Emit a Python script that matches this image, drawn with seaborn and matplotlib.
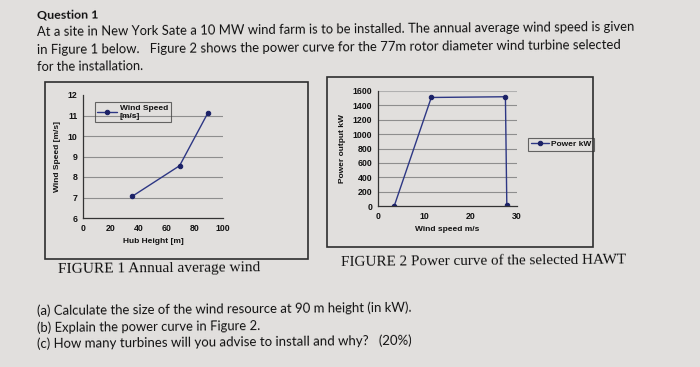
import matplotlib
matplotlib.use("Agg")
import matplotlib.pyplot as plt
import seaborn as sns
import pandas as pd
from matplotlib.patches import Rectangle

# ---------------- data ----------------
hub_height = [35, 69, 89]
wind_speed = [7.05, 8.55, 11.1]
fig1_xticks = [0, 20, 40, 60, 80, 100]
fig1_yticks = [6, 7, 8, 9, 10, 11, 12]
fig1_grid = [7, 8, 9, 10, 11]

power_ws = [3.5, 11.5, 27.5, 27.8]
power_kw = [0, 1510, 1520, 20]
fig2_xticks = [0, 10, 20, 30]
fig2_yticks = [0, 200, 400, 600, 800, 1000, 1200, 1400, 1600]
fig2_grid = [200, 400, 600, 800, 1000, 1200, 1400, 1600]

question_title = "Question 1"
question_lines = [
    "At a site in New York Sate a 10 MW wind farm is to be installed. The annual average wind speed is given",
    "in Figure 1 below.   Figure 2 shows the power curve for the 77m rotor diameter wind turbine selected",
    "for the installation.",
]
caption1 = "FIGURE 1 Annual average wind"
caption2 = "FIGURE 2 Power curve of the selected HAWT"
parts = [
    "(a) Calculate the size of the wind resource at 90 m height (in kW).",
    "(b) Explain the power curve in Figure 2.",
    "(c) How many turbines will you advise to install and why?   (20%)",
]

# ---------------- style ----------------
sns.set_theme(style="white")
plt.rcParams["font.family"] = ["Liberation Sans", "DejaVu Sans"]

W, H = 700, 367
PAGE = "#e1dfdd"
INK = "#121212"
LINE = "#2d3784"
MARK = "#1b2166"
GRID = "#8e8e8e"

fig = plt.figure(figsize=(7, 3.67), dpi=100, facecolor=PAGE)


def fx(x):
    return x / W


def fy(y):
    return 1 - y / H


renderer = fig.canvas.get_renderer()


def fit_text(x, y, s, target_w, family, weight="normal", rot=0.5):
    t = fig.text(fx(x), fy(y), s, family=family, weight=weight, fontsize=10,
                 color=INK, ha="left", va="center", rotation=rot,
                 rotation_mode="anchor")
    w = t.get_window_extent(renderer).width
    t.set_fontsize(10 * target_w / w)
    return t


body_font = ["Lato", "DejaVu Sans"]
fit_text(37, 15, question_title, 61, body_font, weight="bold")
fit_text(37, 32, question_lines[0], 597, body_font)
fit_text(37, 50, question_lines[1], 583, body_font)
fit_text(37, 67, question_lines[2], 107, body_font)
fit_text(58, 270, caption1, 202, ["Liberation Serif"])
fit_text(341, 263, caption2, 285, ["Liberation Serif"])
fit_text(37, 311, parts[0], 375, body_font)
fit_text(37, 328, parts[1], 223, body_font)
fit_text(37, 344, parts[2], 376, body_font)

# boxes around the figures
for (x0, y0, x1, y1) in [(45, 82, 308, 259), (327, 77, 593, 247)]:
    fig.add_artist(Rectangle((fx(x0), fy(y1)), fx(x1 - x0), (y1 - y0) / H,
                             transform=fig.transFigure, fill=False,
                             edgecolor="#2e2e2e", lw=1.2))

tick_kw = dict(labelsize=6.3, colors=INK, direction="inout", length=3, width=0.8,
               pad=2.5)
lab_kw = dict(fontsize=6.0, weight="bold", color=INK)


def style_axes(ax):
    ax.set_facecolor("none")
    for s in ["top", "right"]:
        ax.spines[s].set_visible(False)
    for s in ["left", "bottom"]:
        ax.spines[s].set_color("#333333")
        ax.spines[s].set_linewidth(0.9)
    ax.tick_params(axis="both", **tick_kw)
    for lab in ax.get_xticklabels() + ax.get_yticklabels():
        lab.set_fontweight("bold")


def style_legend(leg):
    leg.get_frame().set_linewidth(0.8)
    for t in leg.get_texts():
        t.set_fontweight("bold")
        t.set_color(INK)


# ---------------- Figure 1 ----------------
ax1 = fig.add_axes([fx(83), fy(218), (223 - 83) / W, (218 - 95) / H])
df1 = pd.DataFrame({"Hub Height [m]": hub_height, "Wind Speed [m/s]": wind_speed})
for g in fig1_grid:
    ax1.axhline(g, color=GRID, lw=0.8, zorder=0)
sns.lineplot(data=df1, x="Hub Height [m]", y="Wind Speed [m/s]", ax=ax1,
             color=LINE, lw=1.0, marker="o", markersize=3.2,
             markerfacecolor=MARK, markeredgecolor=MARK,
             label="Wind Speed\n[m/s]", sort=False)
ax1.set_xlim(0, 100)
ax1.set_ylim(6, 12)
ax1.set_xticks(fig1_xticks)
ax1.set_yticks(fig1_yticks)
style_axes(ax1)
ax1.set_xlabel("Hub Height [m]", labelpad=4, **lab_kw)
ax1.set_ylabel("Wind Speed [m/s]", labelpad=5, **lab_kw)
leg1 = ax1.legend(loc="upper left", bbox_to_anchor=(fx(95), fy(102)),
                  bbox_transform=fig.transFigure, frameon=True, fancybox=False,
                  edgecolor="#444444", facecolor="none", fontsize=6.0,
                  handlelength=2.4, borderpad=0.3, handletextpad=0.3,
                  borderaxespad=0)
style_legend(leg1)

# ---------------- Figure 2 ----------------
ax2 = fig.add_axes([fx(378), fy(206), (517 - 378) / W, (206 - 91) / H])
df2 = pd.DataFrame({"Wind speed m/s": power_ws, "Power output kW": power_kw})
for g in fig2_grid:
    ax2.axhline(g, color=GRID if g < 1600 else "#b0b0b0", lw=0.8, zorder=0)
sns.lineplot(data=df2, x="Wind speed m/s", y="Power output kW", ax=ax2,
             color=LINE, lw=1.0, marker="o", markersize=3.2,
             markerfacecolor=MARK, markeredgecolor=MARK,
             label="Power kW", sort=False)
ax2.set_xlim(0, 30)
ax2.set_ylim(0, 1600)
ax2.set_xticks(fig2_xticks)
ax2.set_yticks(fig2_yticks)
style_axes(ax2)
ax2.set_xlabel("Wind speed m/s", labelpad=4, **lab_kw)
ax2.set_ylabel("Power output kW", labelpad=5, **lab_kw)
leg2 = ax2.legend(loc="upper left", bbox_to_anchor=(fx(528), fy(138)),
                  bbox_transform=fig.transFigure, frameon=True, fancybox=False,
                  edgecolor="#444444", facecolor="none", fontsize=6.0,
                  handlelength=2.2, borderpad=0.3, handletextpad=0.3,
                  borderaxespad=0)
style_legend(leg2)

fig.savefig("out.png", dpi=100, facecolor=PAGE)
